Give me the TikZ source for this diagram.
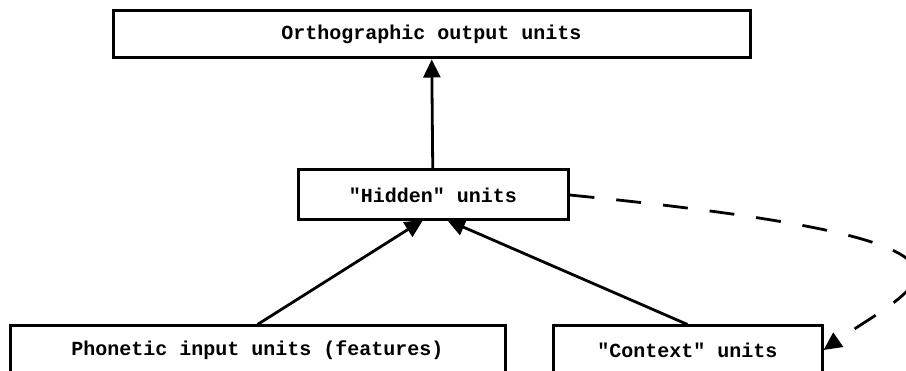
\documentclass[tikz,border=0pt]{standalone}
\usepackage{fontspec}
\setmonofont{Liberation Mono}
\usetikzlibrary{arrows.meta}
\begin{document}
\begin{tikzpicture}[x=1pt, y=1pt, unit/.style={draw, line width=3pt, font=\ttfamily\bfseries\fontsize{20}{24}\selectfont, inner sep=0pt}, link/.style={line width=2.8pt, -{Triangle[length=18pt, width=17pt]}}]
		\useasboundingbox (0,0) rectangle (906,371);
		\clip (0,0) rectangle (906,371);
		\node[unit, minimum width=637, minimum height=47] (Output) at (431.5,336.5) {Orthographic output units};
		\node[unit, minimum width=270, minimum height=50] (Hidden) at (433,176) {"Hidden" units};
		\node[unit, minimum width=495, minimum height=48] (Input) at (257.5,21) {Phonetic input units (features)};
		\node[unit, minimum width=269, minimum height=48] (Context) at (687.5,21) {"Context" units};
		% Arrows
		\draw[link] (Hidden) -- (Output);
		\draw[link] (Input.north) -- (423,151);
		\draw[link] (Context.north) -- (447,151);
		\draw[link, dash pattern=on 25pt off 22pt] (Hidden.east) .. controls (1043,129) and (920,88) .. (Context.east);
	\end{tikzpicture}
\end{document}
